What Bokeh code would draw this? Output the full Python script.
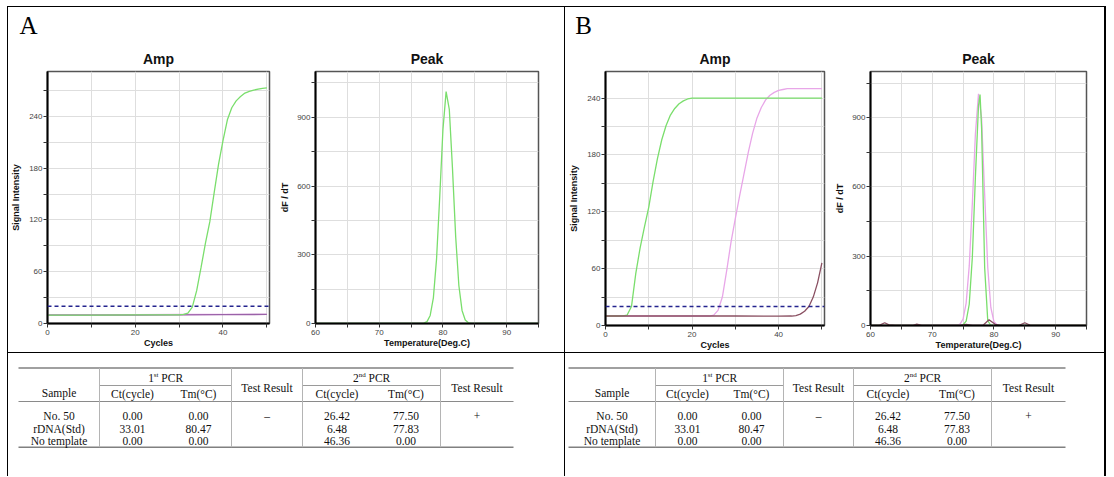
from bokeh.plotting import figure
from bokeh.layouts import row, column
from bokeh.models import Range1d, FixedTicker, Span, Spacer
from bokeh.core.properties import value
from bokeh.embed import file_html
from bokeh.resources import INLINE

# ---------------- data ----------------
# Panel A - Amp (signal intensity vs cycles)
a_amp_std_cycles = [0, 10, 20, 30, 31, 32, 33, 34, 35, 36, 37, 38, 39, 40, 41, 42, 43, 44, 45, 46, 47, 48, 49, 50]
a_amp_std_signal = [9.8, 9.8, 9.9, 10.0, 10.5, 12, 19, 38, 65, 93, 118, 152, 185, 212, 236, 250, 258, 263, 267, 269, 270.5, 271.5, 272.5, 273]
a_amp_no50_cycles = [0, 10, 20, 30, 40, 50]
a_amp_no50_signal = [10.2, 10.2, 10.3, 10.4, 10.5, 10.6]
a_amp_ntc_cycles = [0, 10, 20, 30, 40, 50]
a_amp_ntc_signal = [9.6, 9.7, 9.8, 10.0, 10.3, 10.5]
a_threshold = 20

# Panel A - Peak (dF/dT vs temperature)
a_peak_std_temp = [60, 76, 76.5, 77, 77.5, 78, 78.5, 79, 79.5, 80, 80.5, 81, 81.5, 82, 82.5, 83, 83.5, 84, 84.5, 95]
a_peak_std_dfdt = [0, 0, 0, 2, 8, 35, 112, 282, 553, 846, 1012, 935, 676, 380, 166, 57, 15, 3, 0, 0]

# Panel B - Amp
b_amp_std_cycles = [0, 1, 2, 3, 4, 5, 6, 7, 8, 9, 10, 11, 12, 13, 14, 15, 16, 17, 18, 19, 20, 30, 40, 50]
b_amp_std_signal = [10, 10, 10, 10, 10.2, 11, 20, 55, 82, 104, 125, 152, 176, 196, 211, 222, 229, 234, 237, 239, 240, 240, 240, 240]
b_amp_no50_cycles = [0, 10, 20, 24, 25, 26, 27, 28, 29, 30, 31, 32, 33, 34, 35, 36, 37, 38, 39, 40, 41, 42, 46, 50]
b_amp_no50_signal = [10, 10, 10, 10, 11, 16, 30, 58, 88, 113, 137, 160, 183, 203, 219, 230, 238, 243, 246, 248, 249, 250, 250, 250]
b_amp_ntc_cycles = [0, 10, 20, 30, 40, 43, 44, 45, 46, 47, 48, 49, 50]
b_amp_ntc_signal = [10, 10, 10, 10, 9.8, 10, 10.5, 12, 15, 20, 30, 45, 66]
b_threshold = 20

# Panel B - Peak
b_peak_no50_temp = [60, 74, 74.5, 75, 75.5, 76, 76.5, 77, 77.5, 78, 78.5, 79, 79.5, 80, 80.5, 81, 95]
b_peak_no50_dfdt = [0, 1, 6, 28, 97, 258, 528, 830, 1003, 898, 566, 251, 78, 17, 3, 0, 0]
b_peak_std_temp = [60, 74.5, 75, 75.5, 76, 76.5, 77, 77.5, 77.75, 78, 78.5, 79, 79.5, 95]
b_peak_std_dfdt = [0, 0, 3, 19, 92, 295, 644, 952, 1000, 857, 250, 21, 0, 0]
b_peak_ntc_temp = [60, 61.5, 62.3, 63, 64, 66.8, 67.5, 68.3, 70, 74.5, 75.5, 76.5, 78.2, 79.2, 80.2, 81, 84, 85, 86, 88, 95]
b_peak_ntc_dfdt = [0, 2, 12, 3, 0, 0, 6, 0, 0, 0, 5, 0, 0, 25, 5, 0, 0, 12, 0, 0, 0]

# Axis ticks
amp_x_ticks = [0, 20, 40]
amp_x_minor = [10, 30, 50]
amp_y_ticks = [0, 60, 120, 180, 240]
amp_y_minor = [30, 90, 150, 210, 270]
peak_x_ticks = [60, 70, 80, 90]
peak_x_minor = [65, 75, 85, 95]
peak_y_ticks = [0, 300, 600, 900]
peak_y_minor = [150, 450, 750, 1050]

# Table contents
samples = ["No. 50", "rDNA(Std)", "No template"]
pcr1_ct = [0.00, 33.01, 0.00]
pcr1_tm = [0.00, 80.47, 0.00]
pcr1_result = ["\u2013", "", ""]
pcr2_ct = [26.42, 6.48, 46.36]
pcr2_tm = [77.50, 77.83, 0.00]
pcr2_result = ["+", "", ""]

# ---------------- styling ----------------
SANS = "Liberation Sans"
SERIF = "Liberation Serif"
GREEN = "#7ade6c"
PINK = "#e8a6e8"
BROWN = "#8a5062"
NAVY = "#24248e"
GRID = "#dedede"
H_HEAD = 34
H_CHART = 311
H_TOP = H_HEAD + H_CHART
H_BOT = 123
TOTAL_W = 1099


def bar(w, h):
    return Spacer(width=w, height=h, margin=0, styles={"background-color": "black"})


def header(width, letter, x):
    p = figure(width=width, height=H_HEAD, x_range=Range1d(0, width), y_range=Range1d(H_HEAD, 0),
               min_border=0, toolbar_location=None, tools="", output_backend="svg",
               x_axis_type=None, y_axis_type=None, outline_line_color=None,
               background_fill_color="white", border_fill_color="white")
    p.text(x=[x], y=[18], text=[letter], text_font=value(SERIF), text_font_size="25px",
           text_align="center", text_baseline="middle", text_color="black")
    return p


def chart(width, left, right, bottom, xr, yr, xt, xmt, yt, ymt, title, xlabel, ylabel, ylab_standoff):
    p = figure(width=width, height=H_CHART, x_range=Range1d(*xr), y_range=Range1d(*yr),
               min_border_left=left, min_border_right=right, min_border_top=30,
               min_border_bottom=bottom, toolbar_location=None, tools="", output_backend="svg",
               background_fill_color="white", border_fill_color="white",
               outline_line_color="#555555", outline_line_width=1.5)
    p.title.text = title
    p.title.align = "center"
    p.title.text_font = SANS
    p.title.text_font_size = "14px"
    p.title.text_font_style = "bold"
    p.title.text_color = "#111111"
    p.title.standoff = 10
    p.xaxis.ticker = FixedTicker(ticks=xt, minor_ticks=xmt)
    p.yaxis.ticker = FixedTicker(ticks=yt, minor_ticks=ymt)
    for ax in (p.xaxis[0], p.yaxis[0]):
        ax.axis_line_color = "black"
        ax.axis_line_width = 2
        ax.major_tick_in = 0
        ax.major_tick_out = 4
        ax.minor_tick_in = 0
        ax.minor_tick_out = 4
        ax.major_tick_line_color = "#333333"
        ax.minor_tick_line_color = "#333333"
        ax.major_label_text_font = SANS
        ax.major_label_text_font_size = "8px"
        ax.major_label_text_color = "#444444"
        ax.axis_label_text_font = SANS
        ax.axis_label_text_font_size = "9px"
        ax.axis_label_text_font_style = "bold"
        ax.axis_label_text_color = "#111111"
    p.xaxis.axis_label = xlabel
    p.yaxis.axis_label = ylabel
    p.xaxis.major_label_standoff = 2
    p.yaxis.major_label_standoff = 1
    p.xaxis.axis_label_standoff = 0
    p.yaxis.axis_label_standoff = ylab_standoff
    for g in (p.xgrid[0], p.ygrid[0]):
        g.grid_line_color = GRID
        g.minor_grid_line_color = GRID
    return p


# ---------- Panel A ----------
a_amp = chart(269, 36, 8, 29, (0, 50.6), (0, 292), amp_x_ticks, amp_x_minor, amp_y_ticks, amp_y_minor,
              "Amp", "Cycles", "Signal Intensity", 5)
a_amp.line(a_amp_no50_cycles, a_amp_no50_signal, line_color=PINK, line_width=1.3)
a_amp.line(a_amp_ntc_cycles, a_amp_ntc_signal, line_color="#9a62a8", line_width=1.3)
a_amp.add_layout(Span(location=a_threshold, dimension="width", line_color=NAVY,
                      line_width=1.5, line_dash="4 3"))
a_amp.line(a_amp_std_cycles, a_amp_std_signal, line_color=GREEN, line_width=1.3)

a_peak = chart(287, 34, 26, 29, (60, 95), (0, 1100), peak_x_ticks, peak_x_minor, peak_y_ticks, peak_y_minor,
               "Peak", "Temperature(Deg.C)", "dF / dT", 4)
a_peak.line(a_peak_std_temp, a_peak_std_dfdt, line_color=GREEN, line_width=1.3)

# ---------- Panel B ----------
b_amp = chart(267, 40, 8, 27, (0, 50.6), (0, 268), amp_x_ticks, amp_x_minor, amp_y_ticks, amp_y_minor,
              "Amp", "Cycles", "Signal Intensity", 5)
b_amp.line(b_amp_no50_cycles, b_amp_no50_signal, line_color=PINK, line_width=1.3)
b_amp.add_layout(Span(location=b_threshold, dimension="width", line_color=NAVY,
                      line_width=1.5, line_dash="4 3"))
b_amp.line(b_amp_std_cycles, b_amp_std_signal, line_color=GREEN, line_width=1.3)
b_amp.line(b_amp_ntc_cycles, b_amp_ntc_signal, line_color=BROWN, line_width=1.3)

b_peak = chart(272, 34, 18, 27, (60, 95), (0, 1100), peak_x_ticks, peak_x_minor, peak_y_ticks, peak_y_minor,
               "Peak", "Temperature(Deg.C)", "dF / dT", 4)
b_peak.line(b_peak_no50_temp, b_peak_no50_dfdt, line_color=PINK, line_width=1.3)
b_peak.line(b_peak_std_temp, b_peak_std_dfdt, line_color=GREEN, line_width=1.3)
b_peak.line(b_peak_ntc_temp, b_peak_ntc_dfdt, line_color=BROWN, line_width=1.3)


# ---------- Tables ----------
def table_fig(width, left, right, verts):
    p = figure(width=width, height=H_BOT, x_range=Range1d(0, width), y_range=Range1d(H_BOT, 0),
               min_border=0, toolbar_location=None, tools="", output_backend="svg",
               x_axis_type=None, y_axis_type=None, outline_line_color=None,
               background_fill_color="white", border_fill_color="white")
    v0, v1, v2, v3 = verts
    y_top, y_mid, y_hdr, y_bot = 14.5, 32, 48, 93.7
    p.segment([left, left], [y_top, y_bot], [right, right], [y_top, y_bot],
              line_color="#808080", line_width=1.5)
    p.segment([left], [y_hdr], [right], [y_hdr], line_color="#8a8a8a", line_width=1.2)
    p.segment([v0, v2], [y_mid, y_mid], [v1, v3], [y_mid, y_mid], line_color="#9a9a9a", line_width=1)
    p.segment([v0, v1, v2, v3], [y_top] * 4, [v0, v1, v2, v3], [y_bot] * 4,
              line_color="#b4b4b4", line_width=1)

    c_sample = (left + v0) / 2
    c_p1 = (v0 + v1) / 2
    c_ct1 = (v0 + c_p1) / 2
    c_tm1 = (c_p1 + v1) / 2
    c_r1 = (v1 + v2) / 2
    c_p2 = (v2 + v3) / 2
    c_ct2 = (v2 + c_p2) / 2
    c_tm2 = (c_p2 + v3) / 2
    c_r2 = (v3 + right) / 2

    tkw = dict(text_font=value(SERIF), text_font_size="11.5px", text_baseline="middle",
               text_color="#111111")
    p.text(x=[c_sample], y=[39.5], text=["Sample"], text_align="center", **tkw)
    p.text(x=[c_r1, c_r2], y=[34, 34], text=["Test Result", "Test Result"], text_align="center", **tkw)
    p.text(x=[c_ct1, c_tm1, c_ct2, c_tm2], y=[40] * 4,
           text=["Ct(cycle)", "Tm(\u00b0C)", "Ct(cycle)", "Tm(\u00b0C)"], text_align="center", **tkw)
    for c, num, sup, sup_w in ((c_p1, "1", "st", 4.7), (c_p2, "2", "nd", 7.0)):
        x0 = c - (5.7 + sup_w + 2.8 + 21.5) / 2
        p.text(x=[x0], y=[24], text=[num], text_align="left", **tkw)
        p.text(x=[x0 + 5.7], y=[21], text=[sup], text_align="left", text_font=value(SERIF),
               text_font_size="7px", text_baseline="middle", text_color="#111111")
        p.text(x=[x0 + 5.7 + sup_w + 2.8], y=[24], text=["PCR"], text_align="left", **tkw)
    row_y = [62, 75, 87.5]
    p.text(x=[c_sample] * 3, y=row_y, text=samples, text_align="center", **tkw)
    p.text(x=[c_ct1] * 3, y=row_y, text=["%.2f" % v for v in pcr1_ct], text_align="center", **tkw)
    p.text(x=[c_tm1] * 3, y=row_y, text=["%.2f" % v for v in pcr1_tm], text_align="center", **tkw)
    p.text(x=[c_r1] * 3, y=row_y, text=pcr1_result, text_align="center", **tkw)
    p.text(x=[c_ct2] * 3, y=row_y, text=["%.2f" % v for v in pcr2_ct], text_align="center", **tkw)
    p.text(x=[c_tm2] * 3, y=row_y, text=["%.2f" % v for v in pcr2_tm], text_align="center", **tkw)
    p.text(x=[c_r2] * 3, y=row_y, text=pcr2_result, text_align="center", **tkw)
    return p


a_tab = table_fig(556, 10, 505, (91, 223, 294, 432))
b_tab = table_fig(539, 3, 500, (90, 218, 288, 426))

panel_a = column(header(556, "A", 20), row(a_amp, a_peak))
panel_b = column(header(539, "B", 18), row(b_amp, b_peak))
top = row(bar(1, H_TOP), panel_a, bar(1, H_TOP), panel_b, bar(2, H_TOP))
bottom = row(bar(1, H_BOT), a_tab, bar(1, H_BOT), b_tab, bar(2, H_BOT))
body = column(bar(TOTAL_W, 1), top, bar(TOTAL_W, 1), bottom)
layout = column(Spacer(width=10, height=6, margin=0), row(Spacer(width=7, height=10, margin=0), body))

open("out.html", "w").write(file_html(layout, INLINE, "PCR"))
